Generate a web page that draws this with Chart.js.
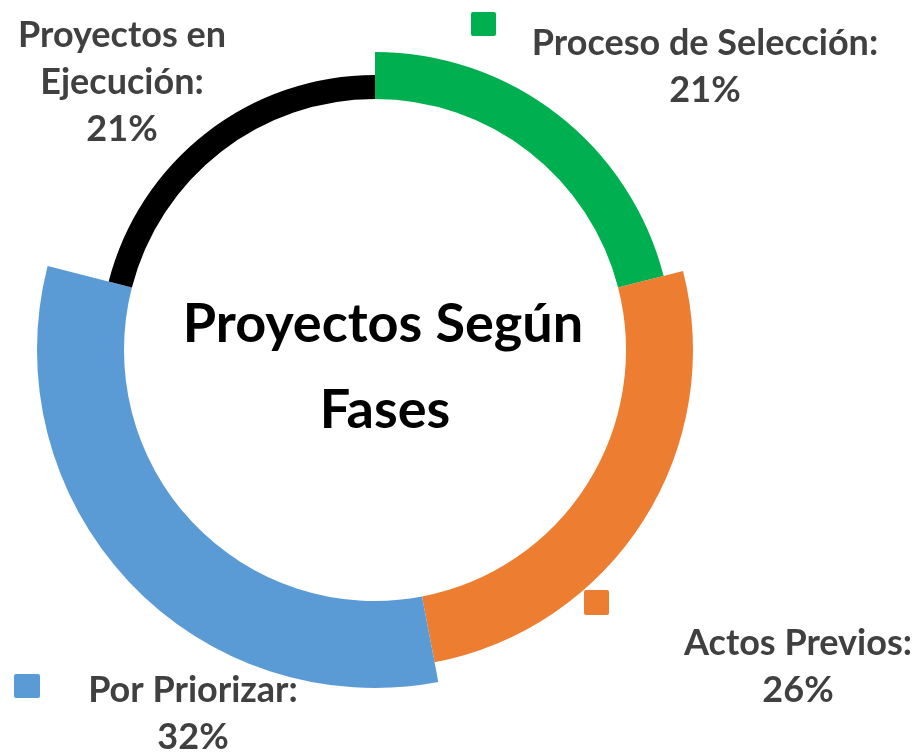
<!DOCTYPE html>
<html>
<head>
<meta charset="utf-8">
<script src="https://cdn.jsdelivr.net/npm/chart.js@4/dist/chart.umd.min.js"></script>
<style>
  html, body { margin: 0; padding: 0; background: #fff; }
  canvas { display: block; }
</style>
</head>
<body>
<canvas id="phasesChart" width="920" height="753"></canvas>
<script>
// data
const categories = ['Proceso de Selección', 'Actos Previos', 'Por Priorizar', 'Proyectos en Ejecución'];
const shares = [21, 26, 32, 21];
const centerTitle = ['Proyectos Según', 'Fases'];

// styles
const colors = ['#00B050', '#ED7D31', '#5B9BD5', '#000000'];
const ringThickness = [47, 67, 87, 24];
const innerRadius = 251;
const labelFont = 'bold 36px Lato, "Open Sans", sans-serif';
const titleFont = 'bold 54px Lato, "Open Sans", sans-serif';
const labelColor = '#404040';
// baseline of first line, centre x, max line width, legend key box
const labelLayout = [
    { x: 705, y: 55, maxWidth: 420, key: [471, 12, 25, 24] },
    { x: 798, y: 655, maxWidth: 420, key: [584, 590, 25, 25] },
    { x: 193, y: 702, maxWidth: 420, key: [14, 674, 26, 24] },
    { x: 122, y: 47, maxWidth: 240, key: null }
];
const lineHeight = 47;

// give every slice its own ring thickness
const variableRing = {
    id: 'variableRing',
    afterDatasetsUpdate(chart) {
        chart.getDatasetMeta(0).data.forEach((arc, i) => {
            arc.innerRadius = innerRadius;
            arc.outerRadius = innerRadius + ringThickness[i];
        });
    }
};

function wrapText(ctx, text, maxWidth) {
    const words = text.split(' ');
    const lines = [];
    let line = '';
    words.forEach(word => {
        const test = line ? line + ' ' + word : word;
        if (line && ctx.measureText(test).width > maxWidth) {
            lines.push(line);
            line = word;
        } else {
            line = test;
        }
    });
    lines.push(line);
    return lines;
}

// data labels, key boxes and the title in the hole
const annotations = {
    id: 'annotations',
    afterDraw(chart) {
        const ctx = chart.ctx;
        const arc0 = chart.getDatasetMeta(0).data[0];
        ctx.save();
        ctx.textAlign = 'center';
        ctx.textBaseline = 'alphabetic';

        ctx.font = titleFont;
        ctx.fillStyle = '#000';
        ctx.fillText(centerTitle[0], arc0.x + 8, 342);
        ctx.fillText(centerTitle[1], arc0.x + 10, 428);

        ctx.font = labelFont;
        ctx.fillStyle = labelColor;
        categories.forEach((name, i) => {
            const pos = labelLayout[i];
            const lines = wrapText(ctx, name + ':', pos.maxWidth);
            lines.push(shares[i] + '%');
            lines.forEach((line, j) => {
                ctx.fillText(line, pos.x, pos.y + j * lineHeight);
            });
            if (pos.key) {
                const [kx, ky, kw, kh] = pos.key;
                ctx.fillStyle = colors[i];
                ctx.beginPath();
                ctx.roundRect(kx, ky, kw, kh, 2);
                ctx.fill();
                ctx.fillStyle = labelColor;
            }
        });
        ctx.restore();
    }
};

const chart = new Chart(document.getElementById('phasesChart').getContext('2d'), {
    type: 'doughnut',
    data: {
        labels: categories,
        datasets: [{
            data: shares,
            backgroundColor: colors,
            borderWidth: 0
        }]
    },
    options: {
        responsive: false,
        animation: false,
        events: [],
        cutout: innerRadius,
        layout: {
            padding: { left: 35, right: 205, top: 10, bottom: 63 }
        },
        plugins: {
            legend: { display: false },
            tooltip: { enabled: false }
        }
    },
    plugins: [variableRing, annotations]
});
</script>
</body>
</html>
